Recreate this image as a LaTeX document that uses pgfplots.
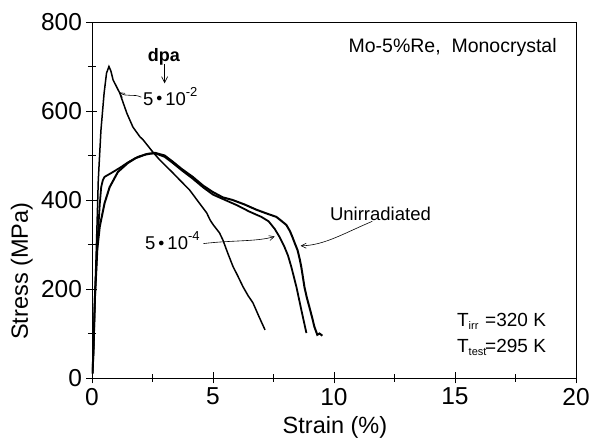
\documentclass[border=0pt]{standalone}
\usepackage{fontspec}
\setmainfont{Liberation Sans}
\usepackage{pgfplots}
\pgfplotsset{compat=1.18}
\usetikzlibrary{calc,arrows.meta}
\newcommand{\cdotbul}{\hspace{3pt}\raisebox{3.8pt}{\fontsize{12}{12}\selectfont$\bullet$}\hspace{3pt}}

\begin{document}
\begin{tikzpicture}
\begin{axis}[name=ax, scale only axis, width=484pt, height=356pt,
  xmin=0, xmax=20, ymin=0, ymax=800,
  xtick={0,5,10,15,20}, ytick={0,200,400,600,800},
  minor xtick={2.5,7.5,12.5,17.5}, minor ytick={100,300,500,700},
  tick pos=left, tick align=center,
  major tick length=11pt, minor tick length=8pt,
  every tick/.style={black, line width=0.8pt},
  axis line style={line width=0.8pt},
  /pgf/number format/assume math mode=true,
  tick label style={font=\fontsize{24.5}{28}\selectfont},
  xticklabel style={yshift=-1pt},
  yticklabel style={xshift=-1pt},
  xlabel={Strain (\%)}, ylabel={Stress (MPa)},
  label style={font=\fontsize{23.5}{28}\selectfont},
  xlabel style={at={(axis description cs:0.502,-0.138)}, anchor=center},
  ylabel style={at={(axis description cs:-0.145,0.30)}, anchor=center},
]
% 5e-2 dpa
\addplot[black, line width=1.5pt] coordinates {
(0.02,10)(0.06,60)(0.12,180)(0.2,330)(0.26,445)(0.37,557)(0.5,640)(0.6,685)(0.7,700)
(0.78,690)(0.87,670)(1.15,640)(1.44,595)(1.69,564)(1.98,542)(2.1,536)(2.51,508)(2.8,490)
(3.34,461)(3.5,452)(4.04,422)(4.45,392)(4.74,371)(4.88,355)(5.0,345)(5.27,326)(5.41,310)
(5.6,282)(5.83,250)(6.0,232)(6.24,205)(6.45,185)(6.65,169)(6.9,138)(7.15,108)};
% 5e-4 dpa
\addplot[black, line width=1.8pt] coordinates {
(0.02,10)(0.06,60)(0.12,180)(0.22,300)(0.32,390)(0.38,429)(0.45,445)(0.52,452)(0.87,463)
(1.2,474)(1.5,485)(1.9,497)(2.3,504)(2.6,505)(3.0,497)(3.34,483)(3.7,467)(4.16,448)
(4.6,428)(5.0,412)(5.5,400)(6.0,388)(6.5,374)(7.0,362)(7.3,352)(7.55,335)(7.75,317)
(7.95,295)(8.1,275)(8.24,249)(8.45,204)(8.65,153)(8.86,101)};
% unirradiated
\addplot[black, line width=2pt] coordinates {
(0.02,10)(0.06,60)(0.12,180)(0.22,290)(0.32,340)(0.52,393)(0.73,429)(1.07,463)(1.48,483)
(1.8,494)(2.2,502)(2.6,506)(3.0,500)(3.34,486)(3.7,470)(4.16,452)(4.6,432)(4.99,418)
(5.4,406)(5.81,400)(6.3,390)(6.8,378)(7.2,370)(7.62,362)(7.85,352)(8.03,344)(8.18,330)
(8.28,317)(8.4,300)(8.49,288)(8.58,268)(8.65,249)(8.72,225)(8.78,204)(8.88,180)(8.98,160)
(9.1,135)(9.19,115)(9.31,97)(9.4,100)(9.52,95)};

% annotations
\node[font=\bfseries\fontsize{18}{20}\selectfont, anchor=base] at (axis cs:2.97,712) {dpa};
\draw[-{Straight Barb[length=6pt,width=6pt]}, line width=0.7pt] (axis cs:3.0,705) -- (axis cs:3.0,662);

\node[font=\fontsize{18.5}{20}\selectfont, anchor=base west, inner sep=0pt] at (axis cs:2.1,613)
  {5\cdotbul 10\raisebox{9pt}{\fontsize{13}{13}\selectfont -2}};
\draw[-{Straight Barb[length=5pt,width=5pt]}, line width=0.6pt] (axis cs:2.04,631)
  .. controls (axis cs:1.7,640) and (axis cs:1.45,630) .. (axis cs:1.12,642);

\node[font=\fontsize{18.5}{20}\selectfont, anchor=base west, inner sep=0pt] at (axis cs:2.19,288)
  {5\cdotbul 10\raisebox{9pt}{\fontsize{13}{13}\selectfont -4}};
\draw[-{Straight Barb[length=5pt,width=5pt]}, line width=0.6pt] (axis cs:4.6,302)
  .. controls (axis cs:5.8,310) and (axis cs:6.8,306) .. (axis cs:7.55,318);

\node[font=\fontsize{18.5}{20}\selectfont, anchor=base west, inner sep=0pt] at (axis cs:9.83,355) {Unirradiated};
\draw[-{Straight Barb[length=5pt,width=5pt]}, line width=0.6pt] (axis cs:11.58,352)
  .. controls (axis cs:10.4,325) and (axis cs:9.6,298) .. (axis cs:8.62,297);

\node[font=\fontsize{19.5}{22}\selectfont, anchor=base east, inner sep=0pt] at (axis cs:19.21,731) {Mo-5\%Re,\ \ Monocrystal};

\node[font=\fontsize{19}{22}\selectfont, anchor=base west, inner sep=0pt] at (axis cs:15.08,115)
  {T\raisebox{-3pt}{\fontsize{11}{11}\selectfont irr}};
\node[font=\fontsize{19}{22}\selectfont, anchor=base west, inner sep=0pt] at (axis cs:16.24,115) {=320 K};
\node[font=\fontsize{19}{22}\selectfont, anchor=base west, inner sep=0pt] at (axis cs:15.08,58)
  {T\raisebox{-3pt}{\fontsize{11}{11}\selectfont test}};
\node[font=\fontsize{19}{22}\selectfont, anchor=base west, inner sep=0pt] at (axis cs:16.24,58) {=295 K};
\end{axis}
\pgfresetboundingbox
\path[use as bounding box] ($(ax.south west)+(-92pt,-62pt)$) rectangle ($(ax.north east)+(13pt,22pt)$);
\end{tikzpicture}
\end{document}
